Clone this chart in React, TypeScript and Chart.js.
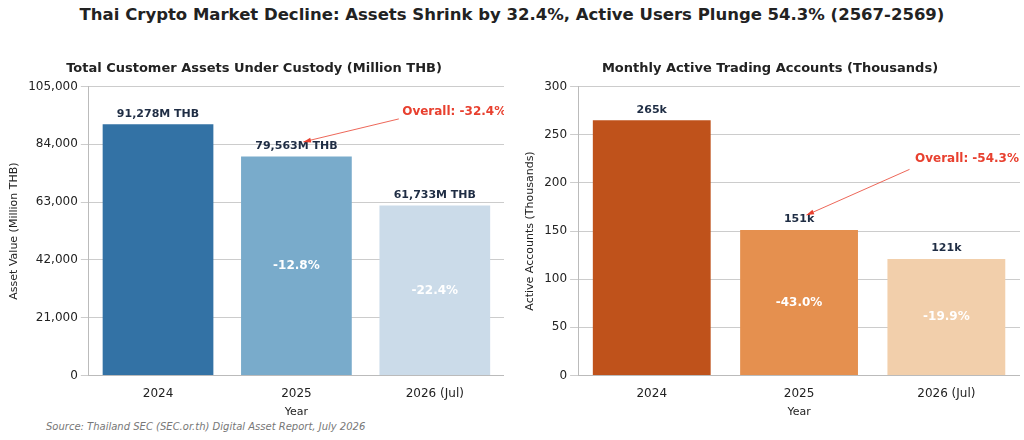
import React, { useEffect, useRef } from "react";
import { Chart, registerables } from "chart.js";
Chart.register(...registerables);

const categories = ["2024", "2025", "2026 (Jul)"];
const assetValues = [91278, 79563, 61733];
const assetLabels = ["91,278M THB", "79,563M THB", "61,733M THB"];
const assetChanges = ["", "-12.8%", "-22.4%"];
const assetColors = ["#3372a5", "#79abcb", "#cbdbe9"];
const userValues = [265, 151, 121];
const userLabels = ["265k", "151k", "121k"];
const userChanges = ["", "-43.0%", "-19.9%"];
const userColors = ["#bf521b", "#e5904f", "#f2cfab"];
const FONT = "'DejaVu Sans', sans-serif";

type Ann = { text: string; tx: number; ty: number; fx: number; fy: number; hx: number; hy: number };

function makePlugin(labels: string[], changes: string[], ann: Ann) {
  return {
    id: "labels",
    afterDatasetsDraw(chart: any) {
      const ctx = chart.ctx;
      const xs = chart.scales.x, ys = chart.scales.y;
      const meta = chart.getDatasetMeta(0);
      const data = chart.data.datasets[0].data as number[];
      ctx.save();
      ctx.textAlign = "center";
      meta.data.forEach((bar: any, i: number) => {
        ctx.font = `bold 11px ${FONT}`;
        ctx.fillStyle = "#1f2d44";
        ctx.textBaseline = "bottom";
        ctx.fillText(labels[i], bar.x, bar.y - 5);
        if (changes[i]) {
          ctx.font = `bold 12px ${FONT}`;
          ctx.fillStyle = "#ffffff";
          ctx.textBaseline = "middle";
          ctx.fillText(changes[i], bar.x, ys.getPixelForValue(data[i] / 2));
        }
      });
      const x0 = xs.getPixelForValue(ann.fx), y0 = ys.getPixelForValue(ann.fy);
      const x1 = xs.getPixelForValue(ann.hx), y1 = ys.getPixelForValue(ann.hy);
      ctx.strokeStyle = "#e8402f";
      ctx.fillStyle = "#e8402f";
      ctx.lineWidth = 0.8;
      ctx.beginPath(); ctx.moveTo(x0, y0); ctx.lineTo(x1, y1); ctx.stroke();
      const a = Math.atan2(y1 - y0, x1 - x0);
      ctx.beginPath();
      ctx.moveTo(x1, y1);
      ctx.lineTo(x1 - 8 * Math.cos(a - 0.3), y1 - 8 * Math.sin(a - 0.3));
      ctx.lineTo(x1 - 8 * Math.cos(a + 0.3), y1 - 8 * Math.sin(a + 0.3));
      ctx.closePath(); ctx.fill();
      ctx.font = `bold 12px ${FONT}`;
      ctx.textBaseline = "middle";
      ctx.fillText(ann.text, xs.getPixelForValue(ann.tx), ys.getPixelForValue(ann.ty));
      ctx.restore();
    },
  };
}

function BarChart(props: {
  values: number[]; colors: string[]; labels: string[]; changes: string[];
  title: string; yTitle: string; max: number; step: number; ann: Ann; comma: boolean;
}) {
  const ref = useRef<HTMLCanvasElement>(null);
  useEffect(() => {
    const chart = new Chart(ref.current!, {
      type: "bar",
      data: {
        labels: categories,
        datasets: [{ data: props.values, backgroundColor: props.colors, barPercentage: 0.8, categoryPercentage: 1 }],
      },
      options: {
        animation: false, responsive: false,
        layout: { padding: { top: 0, right: 0 } },
        plugins: {
          legend: { display: false }, tooltip: { enabled: false },
          title: { display: true, text: props.title, font: { family: FONT, size: 13, weight: "bold" }, color: "#222", padding: { top: 0, bottom: 10 } },
        },
        scales: {
          x: {
            grid: { display: false }, border: { color: "#bbb" },
            ticks: { font: { family: FONT, size: 12 }, color: "#222" },
            title: { display: true, text: "Year", font: { family: FONT, size: 11 }, color: "#222", padding: 2 },
          },
          y: {
            min: 0, max: props.max,
            ticks: { stepSize: props.step, font: { family: FONT, size: 12 }, color: "#222",
              callback: (v: any) => (props.comma ? Number(v).toLocaleString("en-US") : String(v)) },
            grid: { color: "#cccccc" }, border: { color: "#bbb" },
            title: { display: true, text: props.yTitle, font: { family: FONT, size: 11 }, color: "#222" },
          },
        },
      } as any,
      plugins: [makePlugin(props.labels, props.changes, props.ann)],
    });
    return () => chart.destroy();
  }, []);
  return <canvas ref={ref} width={500} height={360} />;
}

export default function App() {
  return (
    <div style={{ position: "fixed", left: 0, top: 0, width: 1024, height: 440, background: "#fff", fontFamily: FONT }}>
      <div style={{ position: "absolute", top: 5, width: 1024, textAlign: "center", fontSize: 16.5, fontWeight: "bold", color: "#222" }}>
        Thai Crypto Market Decline: Assets Shrink by 32.4%, Active Users Plunge 54.3% (2567-2569)
      </div>
      <div style={{ position: "absolute", left: 4, top: 61 }}>
        <BarChart values={assetValues} colors={assetColors} labels={assetLabels} changes={assetChanges}
          title="Total Customer Assets Under Custody (Million THB)" yTitle="Asset Value (Million THB)"
          max={105000} step={20000} comma={true}
          ann={{ text: "Overall: -32.4%", tx: 2.14, ty: 95900, fx: 1.74, fy: 93250, hx: 1.05, hy: 84900 }} />
      </div>
      <div style={{ position: "absolute", left: 520, top: 61 }}>
        <BarChart values={userValues} colors={userColors} labels={userLabels} changes={userChanges}
          title="Monthly Active Trading Accounts (Thousands)" yTitle="Active Accounts (Thousands)"
          max={300} step={50} comma={false}
          ann={{ text: "Overall: -54.3%", tx: 2.14, ty: 224.5, fx: 1.75, fy: 214, hx: 1.05, hy: 166.5 }} />
      </div>
      <div style={{ position: "absolute", left: 46, top: 421, fontSize: 10, fontStyle: "italic", color: "#777" }}>
        Source: Thailand SEC (SEC.or.th) Digital Asset Report, July 2026
      </div>
    </div>
  );
}
